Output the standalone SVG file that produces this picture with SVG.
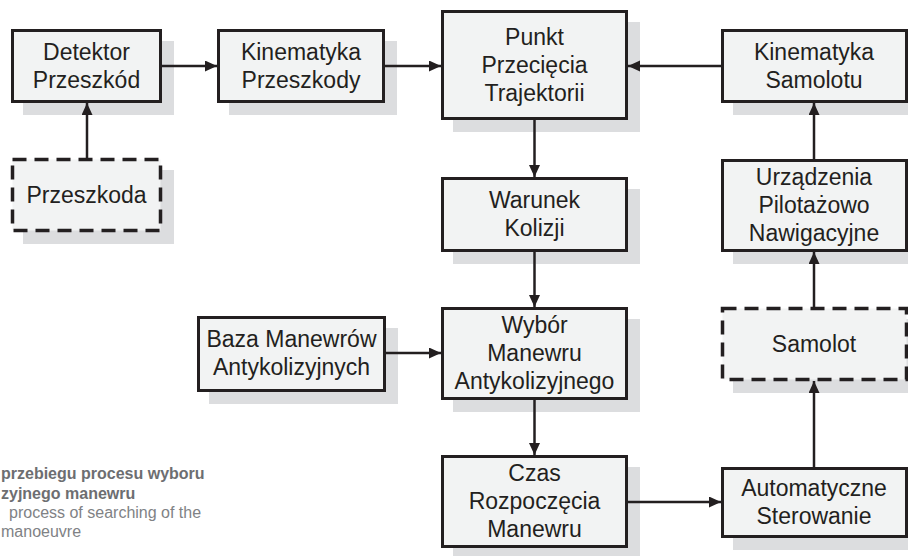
<svg xmlns="http://www.w3.org/2000/svg" width="908" height="556" viewBox="0 0 908 556">
<style>
.sh{fill:#dcdddf;stroke:none}
.bx{fill:#f2f3f3;stroke:#231f20;stroke-width:3}
.dash{fill:#f2f3f3;stroke:#231f20;stroke-width:3.5;stroke-dasharray:14 8}
.t{font-family:"Liberation Sans",Arial,sans-serif;font-size:23px;fill:#231f20;text-anchor:middle}
.cn{stroke:#231f20;stroke-width:2.5;fill:none;marker-end:url(#ah)}
.cb{font-family:"Liberation Sans",Arial,sans-serif;font-size:16px;font-weight:bold;fill:#6d6e71}
.cr{font-family:"Liberation Sans",Arial,sans-serif;font-size:16px;fill:#808285}
</style>
<defs>
<marker id="ah" markerUnits="userSpaceOnUse" markerWidth="13" markerHeight="12" refX="12" refY="5.5" orient="auto">
<path d="M0,0 L12,5.5 L0,11 z" fill="#231f20"/>
</marker>
</defs>

<g id="detektor">
<rect class="sh" x="23" y="41" width="151" height="74"/>
<rect class="bx" x="12.5" y="30.5" width="148" height="71"/>
<text class="t" x="86.5" y="60">Detektor</text>
<text class="t" x="86.5" y="88">Przeszkód</text>
</g>
<g id="przeszkoda">
<rect class="sh" x="23" y="170" width="151" height="74"/>
<rect class="dash" x="12.5" y="159.5" width="148" height="71"/>
<text class="t" x="86.5" y="203">Przeszkoda</text>
</g>
<g id="kin-przeszkody">
<rect class="sh" x="229" y="41" width="168" height="74"/>
<rect class="bx" x="218.5" y="30.5" width="165" height="71"/>
<text class="t" x="301" y="60">Kinematyka</text>
<text class="t" x="301" y="88">Przeszkody</text>
</g>
<g id="punkt">
<rect class="sh" x="453" y="22" width="187" height="110"/>
<rect class="bx" x="442.5" y="11.5" width="184" height="107"/>
<text class="t" x="534.5" y="45">Punkt</text>
<text class="t" x="534.5" y="73">Przecięcia</text>
<text class="t" x="534.5" y="101">Trajektorii</text>
</g>
<g id="kin-samolotu">
<rect class="sh" x="733" y="41" width="187" height="74"/>
<rect class="bx" x="722.5" y="30.5" width="184" height="71"/>
<text class="t" x="814" y="60">Kinematyka</text>
<text class="t" x="814" y="88">Samolotu</text>
</g>
<g id="warunek">
<rect class="sh" x="453" y="189" width="187" height="75"/>
<rect class="bx" x="442.5" y="178.5" width="184" height="72"/>
<text class="t" x="534.5" y="208">Warunek</text>
<text class="t" x="534.5" y="236">Kolizji</text>
</g>
<g id="urzadzenia">
<rect class="sh" x="733" y="171" width="187" height="93"/>
<rect class="bx" x="722.5" y="160.5" width="184" height="90"/>
<text class="t" x="814" y="185">Urządzenia</text>
<text class="t" x="814" y="213">Pilotażowo</text>
<text class="t" x="814" y="241">Nawigacyjne</text>
</g>
<g id="baza">
<rect class="sh" x="209" y="328" width="189" height="76"/>
<rect class="bx" x="198.5" y="317.5" width="186" height="73"/>
<text class="t" x="291.5" y="347">Baza Manewrów</text>
<text class="t" x="291.5" y="375">Antykolizyjnych</text>
</g>
<g id="wybor">
<rect class="sh" x="453" y="319" width="187" height="93"/>
<rect class="bx" x="442.5" y="308.5" width="184" height="90"/>
<text class="t" x="534.5" y="333">Wybór</text>
<text class="t" x="534.5" y="361">Manewru</text>
<text class="t" x="534.5" y="389">Antykolizyjnego</text>
</g>
<g id="samolot">
<rect class="sh" x="733" y="319" width="187" height="74"/>
<rect class="dash" x="722.5" y="308.5" width="184" height="71"/>
<text class="t" x="814" y="352">Samolot</text>
</g>
<g id="czas">
<rect class="sh" x="453" y="467" width="187" height="93"/>
<rect class="bx" x="442.5" y="456.5" width="184" height="90"/>
<text class="t" x="534.5" y="481">Czas</text>
<text class="t" x="534.5" y="509">Rozpoczęcia</text>
<text class="t" x="534.5" y="537">Manewru</text>
</g>
<g id="automatyczne">
<rect class="sh" x="733" y="479" width="187" height="71"/>
<rect class="bx" x="722.5" y="468.5" width="184" height="68"/>
<text class="t" x="814" y="496">Automatyczne</text>
<text class="t" x="814" y="524">Sterowanie</text>
</g>

<g id="connectors">
<line class="cn" x1="87" y1="158" x2="87" y2="103"/>
<line class="cn" x1="162" y1="66" x2="217" y2="66"/>
<line class="cn" x1="385" y1="66" x2="441" y2="66"/>
<line class="cn" x1="721" y1="66" x2="628" y2="66"/>
<line class="cn" x1="534.5" y1="120" x2="534.5" y2="177"/>
<line class="cn" x1="534.5" y1="252" x2="534.5" y2="307"/>
<line class="cn" x1="386" y1="353" x2="441" y2="353"/>
<line class="cn" x1="534.5" y1="400" x2="534.5" y2="455"/>
<line class="cn" x1="628" y1="502" x2="721" y2="502"/>
<line class="cn" x1="814" y1="467" x2="814" y2="381"/>
<line class="cn" x1="814" y1="307" x2="814" y2="252"/>
<line class="cn" x1="814" y1="159" x2="814" y2="103"/>
</g>

<g id="caption">
<text class="cb" x="1" y="479">przebiegu procesu wyboru</text>
<text class="cb" x="1" y="499">zyjnego manewru</text>
<text class="cr" x="9" y="518">process of searching of the</text>
<text class="cr" x="1" y="537">manoeuvre</text>
</g>
</svg>
